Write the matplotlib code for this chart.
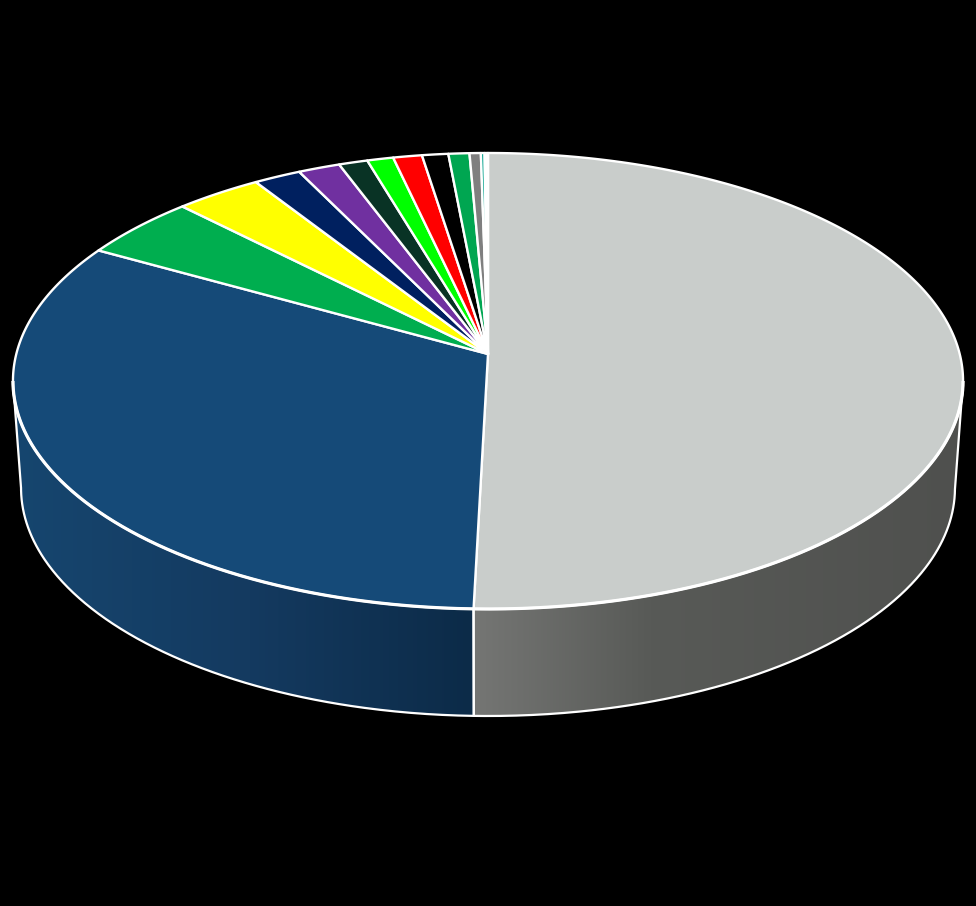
import numpy as np
import matplotlib
matplotlib.use("Agg")
import matplotlib.pyplot as plt
from matplotlib.patches import Polygon
from matplotlib.colors import LinearSegmentedColormap

# share of each slice in percent, clockwise from the top
values = [50.43, 32.67, 4.5, 3.3, 1.8, 1.6, 1.1, 1.0, 1.1, 1.0, 0.8, 0.43, 0.14, 0.13]
colors = ["#c9cdcb", "#154a78", "#00ae4f", "#ffff00", "#00205f", "#7030a0",
          "#093325", "#00ff00", "#ff0000", "#000000", "#00a651", "#7f7f7f",
          "#00a08a", "#ffffff"]

# wall shading, (x in pixels, colour)
wall_blue = [(13, "#16466f"), (250, "#143a60"), (473, "#0c2b48")]
wall_grey = [(473, "#757674"), (650, "#585a57"), (963, "#4f504e")]

# pixel geometry of the tilted pie
cx, apex_y = 488, 354
A, C, K = 471.7, 224.8, 0.1184
rim_cy, depth_scale, bottom_cy = 381, 0.983, 488


# top face: circle angle (clockwise from top) -> pixels, with perspective
def top_xy(t):
    X, Y = np.sin(t), np.cos(t)
    return cx + A * X / (1 + K * Y), apex_y - C * Y / (1 + K * Y)


# bottom rim is the top rim moved down and a bit narrower
def bottom_xy(t):
    x, y = top_xy(t)
    return cx + (x - cx) * depth_scale, bottom_cy + (y - rim_cy)


def angles(a, b):
    return np.linspace(a, b, max(int((b - a) * 200), 2))


fig = plt.figure(figsize=(9.76, 9.06), dpi=100, facecolor="black")
ax = fig.add_axes([0, 0, 1, 1])
ax.set_xlim(0, 976)
ax.set_ylim(906, 0)
ax.axis("off")

edges = np.cumsum([0] + values) / sum(values) * 2 * np.pi

# the widest point of the rim is where the wall starts to show
t_right = np.pi / 2 + np.arcsin(K)
t_left = 2 * np.pi - t_right


def wall(a, b, stops):
    ts = angles(a, b)
    xt, yt = top_xy(ts)
    xb, yb = bottom_xy(ts)
    pts = np.column_stack([np.r_[xt, xb[::-1]], np.r_[yt, yb[::-1]]])
    poly = Polygon(pts, closed=True, fc="none", ec="none")
    ax.add_patch(poly)
    x0, x1 = stops[0][0], stops[-1][0]
    cmap = LinearSegmentedColormap.from_list(
        "w", [((x - x0) / (x1 - x0), c) for x, c in stops])
    im = ax.imshow(np.linspace(0, 1, 256)[None, :], cmap=cmap, aspect="auto",
                   extent=[x0, x1, 800, 300], zorder=1)
    im.set_clip_path(poly)
    ax.plot(np.r_[xt[0], xb, xt[-1]], np.r_[yt[0], yb, yt[-1]], color="white",
            lw=1.6, zorder=2, solid_joinstyle="round", solid_capstyle="butt")


wall(t_right, edges[1], wall_grey)
wall(edges[1], t_left, wall_blue)
# restore the limits imshow changed
ax.set_xlim(0, 976)
ax.set_ylim(906, 0)

for a, b, c in zip(edges[:-1], edges[1:], colors):
    x, y = top_xy(angles(a, b))
    ax.add_patch(Polygon(np.column_stack([np.r_[cx, x], np.r_[apex_y, y]]), closed=True,
                         fc=c, ec="white", lw=1.7, zorder=3, joinstyle="round"))

# front rim is drawn heavier than the rest
x, y = top_xy(angles(t_right, t_left))
ax.plot(x, y, color="white", lw=2.3, zorder=4, solid_capstyle="butt")

fig.savefig("out.png", dpi=100, facecolor="black")
